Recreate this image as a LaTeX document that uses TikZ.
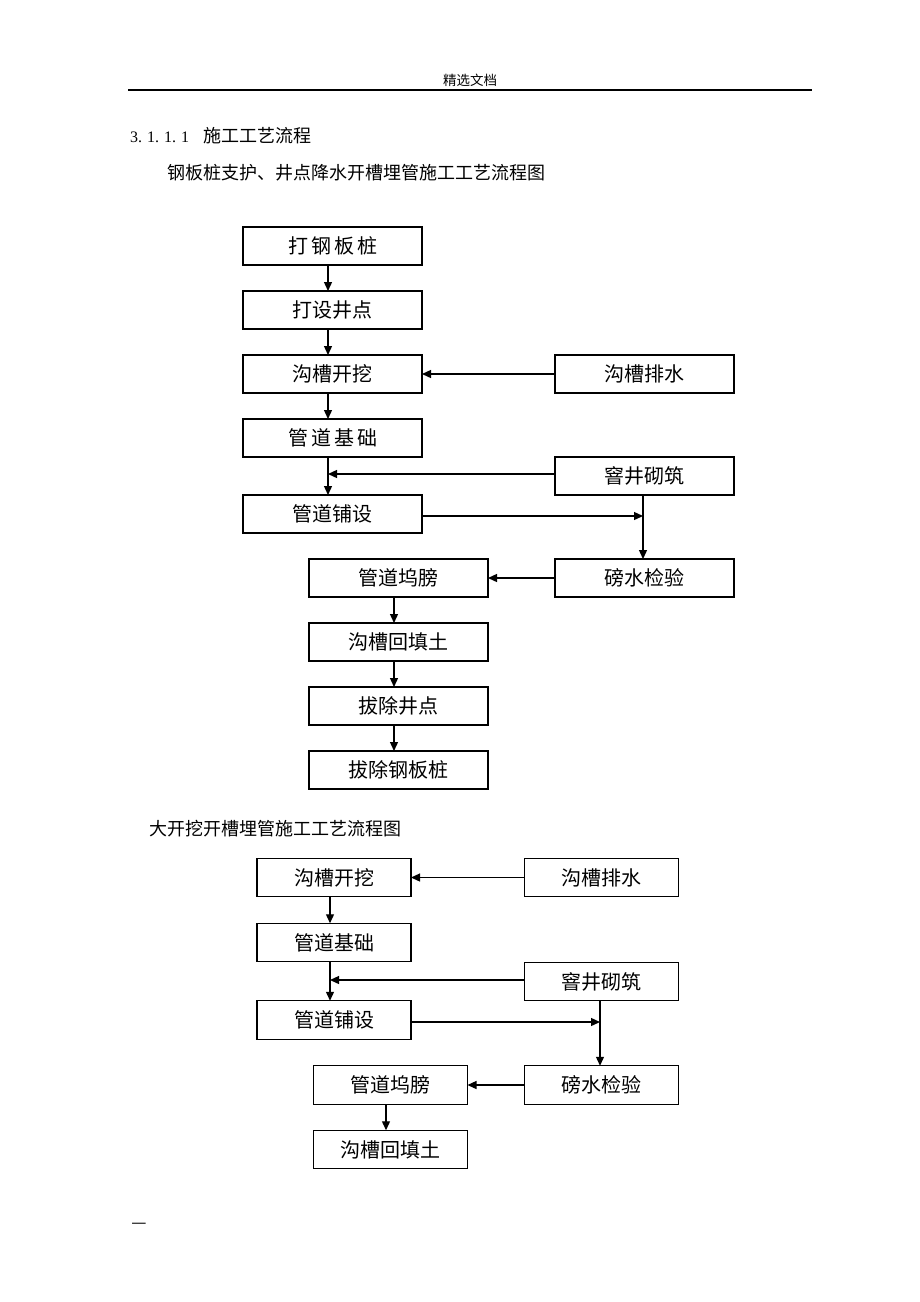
\documentclass[tikz,border=0pt]{standalone}
\usepackage{fontspec}
\setmainfont{Noto Sans CJK SC}
\newfontfamily\numfont{Liberation Serif}
\usetikzlibrary{arrows.meta,positioning}
\tikzset{
    %Define standard arrow tip
    >={Triangle[length=9pt,width=8pt]},
    %Define style for boxes
    proc/.style={
           rectangle,
           draw=black, line width=1.3pt,
           minimum width=179pt,
           minimum height=38pt,
           inner sep=0pt,
           outer sep=0pt,
           font=\fontsize{20}{24}\selectfont,
           text centered},
    procs/.style={
           proc,
           minimum width=154pt,
           minimum height=38.5pt},
    % Define style for page texts
    txt/.style={
           anchor=west,
           inner sep=0pt,
           font=\fontsize{18}{22}\selectfont},
    % Define arrow style
    pil/.style={
           ->,
           line width=1.3pt,
           shorten <=0pt,
           shorten >=0pt,}
}

\begin{document}
\begin{tikzpicture}[x=1pt,y=-1pt,node distance=26pt]
\fill[white] (0,0) rectangle (920,1302);
\useasboundingbox (0,0) rectangle (920,1302);

% page head
\node[font=\fontsize{13.5}{16}\selectfont] (hdr) at (470,80) {精选文档};
\draw[line width=1.3pt] (128,90) -- (812,90);
\node[txt] (sec) at (130,136) {{\numfont\fontsize{16}{19}\selectfont 3.\hspace{5pt}1.\hspace{5pt}1.\hspace{5pt}1}\hspace{14pt}施工工艺流程};
\node[txt] (tt1) at (167,173) {钢板桩支护、井点降水开槽埋管施工工艺流程图};

% first chart
\node[proc] (a1) at (332.5,246) {打\hspace{3pt}钢\hspace{3pt}板\hspace{3pt}桩};
\node[proc, below=of a1] (a2) {打设井点};
\node[proc, below=of a2] (a3) {沟槽开挖};
\node[proc, below=of a3] (a4) {管\hspace{3pt}道\hspace{3pt}基\hspace{3pt}础};
\node[proc, below=38pt of a4] (a5) {管道铺设};
\node[proc] (r1) at (644.5,374) {沟槽排水};
\node[proc] (r2) at (644.5,476) {窨井砌筑};
\node[proc] (r3) at (644.5,578) {磅水检验};
\node[proc] (b1) at (398.5,578) {管道坞膀};
\node[proc, below=of b1] (b2) {沟槽回填土};
\node[proc, below=of b2] (b3) {拔除井点};
\node[proc, below=of b3] (b4) {拔除钢板桩};

\coordinate (aline) at ([xshift=-4.5pt]a4.south);
\coordinate (rline) at ([xshift=-1.5pt]r2.south);

\draw[pil] ([xshift=-4.5pt]a1.south) -- ([xshift=-4.5pt]a2.north);
\draw[pil] ([xshift=-4.5pt]a2.south) -- ([xshift=-4.5pt]a3.north);
\draw[pil] ([xshift=-4.5pt]a3.south) -- ([xshift=-4.5pt]a4.north);
\draw[pil] (aline) -- ([xshift=-4.5pt]a5.north);
\draw[pil] (r1.west) -- (a3.east);
\draw[pil] ([yshift=2pt]r2.west) -- ([yshift=2pt]r2.west -| aline);
\draw[pil] ([yshift=-2pt]a5.east) -- ([yshift=-2pt]a5.east -| rline);
\draw[pil] (rline) -- ([xshift=-1.5pt]r3.north);
\draw[pil] (r3.west) -- (b1.east);
\draw[pil] ([xshift=-4.5pt]b1.south) -- ([xshift=-4.5pt]b2.north);
\draw[pil] ([xshift=-4.5pt]b2.south) -- ([xshift=-4.5pt]b3.north);
\draw[pil] ([xshift=-4.5pt]b3.south) -- ([xshift=-4.5pt]b4.north);

% second chart
\node[txt] (tt2) at (149,829) {大开挖开槽埋管施工工艺流程图};

\node[procs] (c1) at (334,877.5) {沟槽开挖};
\node[procs] (c2) at (334,942.5) {管道基础};
\node[procs] (c3) at (334,1020) {管道铺设};
\node[procs] (s1) at (601.5,877.5) {沟槽排水};
\node[procs] (s2) at (601.5,981.5) {窨井砌筑};
\node[procs] (s3) at (601.5,1085) {磅水检验};
\node[procs] (d1) at (390.5,1085) {管道坞膀};
\node[procs, below=26pt of d1] (d2) {沟槽回填土};

\coordinate (cline) at ([xshift=-4pt]c2.south);
\coordinate (sline) at ([xshift=-1.5pt]s2.south);

\draw[pil] ([xshift=-4pt]c1.south) -- ([xshift=-4pt]c2.north);
\draw[pil] (cline) -- ([xshift=-4pt]c3.north);
\draw[pil] (s1.west) -- (c1.east);
\draw[pil] ([yshift=1.5pt]s2.west) -- ([yshift=1.5pt]s2.west -| cline);
\draw[pil] ([yshift=-2pt]c3.east) -- ([yshift=-2pt]c3.east -| sline);
\draw[pil] (sline) -- ([xshift=-1.5pt]s3.north);
\draw[pil] (s3.west) -- (d1.east);
\draw[pil] ([xshift=-4.5pt]d1.south) -- ([xshift=-4.5pt]d2.north);

% page foot
\node[font=\fontsize{17}{20}\selectfont] (ftr) at (139,1226) {—};
\end{tikzpicture}
\end{document}
